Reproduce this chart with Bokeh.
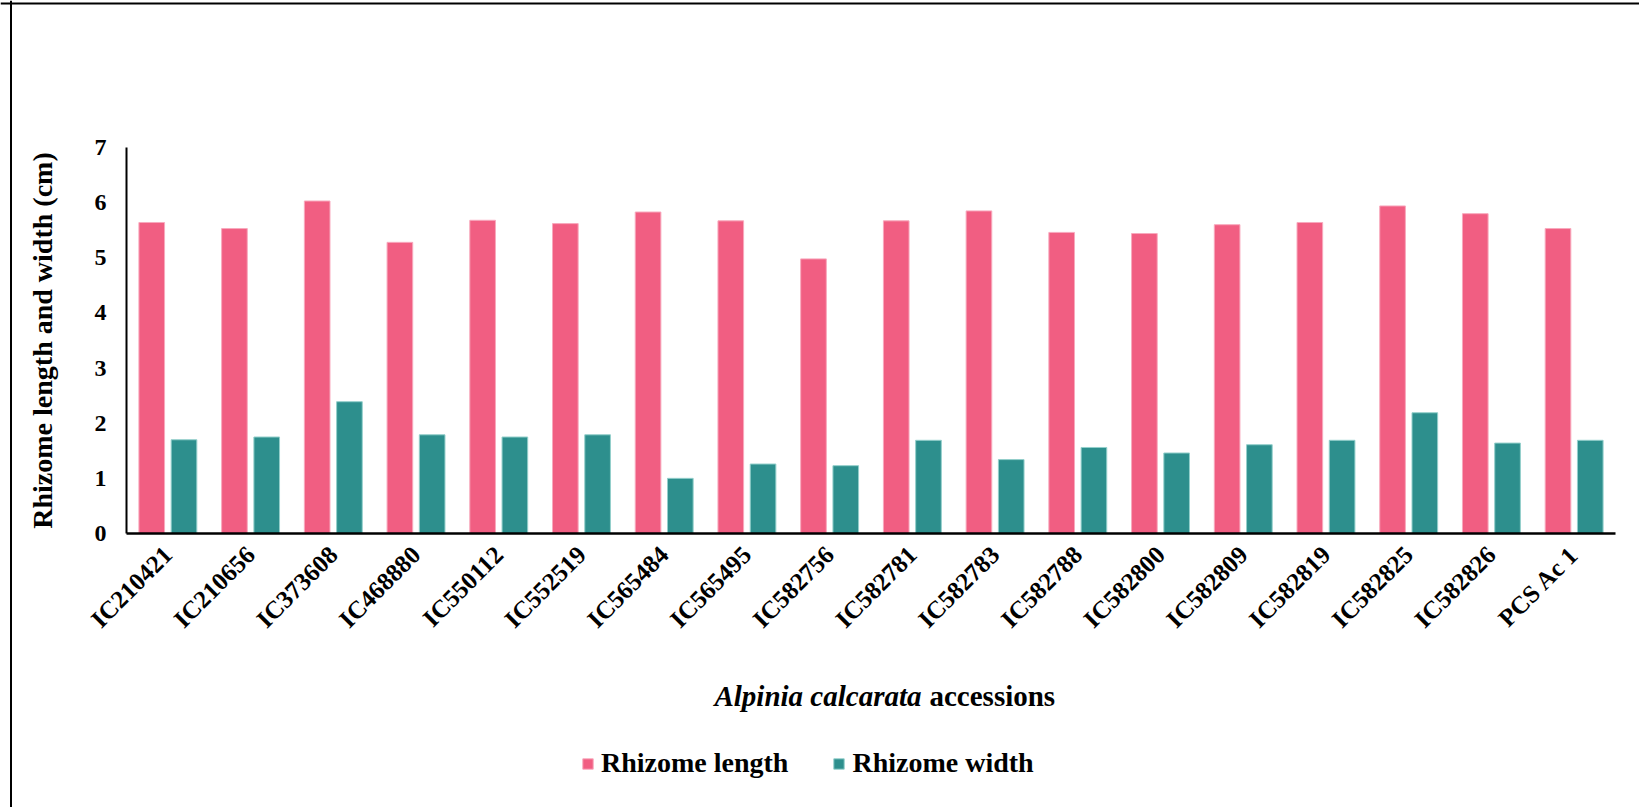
import numpy as np
from bokeh.plotting import figure
from bokeh.models import (ColumnDataSource, Range1d, FixedTicker,
                          Legend, LegendItem, Label, Span)
from bokeh.embed import file_html
from bokeh.resources import INLINE

# ---------------- data ----------------
categories = ["IC210421", "IC210656", "IC373608", "IC468880", "IC550112", "IC552519",
              "IC565484", "IC565495", "IC582756", "IC582781", "IC582783", "IC582788",
              "IC582800", "IC582809", "IC582819", "IC582825", "IC582826", "PCS Ac 1"]
rhizome_length = [5.64, 5.53, 6.03, 5.28, 5.68, 5.62, 5.83, 5.67, 4.98, 5.67, 5.85, 5.46,
                  5.44, 5.60, 5.64, 5.94, 5.80, 5.53]
rhizome_width = [1.70, 1.75, 2.39, 1.79, 1.75, 1.79, 1.00, 1.26, 1.23, 1.69, 1.34, 1.56,
                 1.46, 1.61, 1.69, 2.19, 1.64, 1.69]
y_ticks = [0, 1, 2, 3, 4, 5, 6, 7]
series_names = ["Rhizome length", "Rhizome width"]
x_title_italic = "Alpinia calcarata"
x_title_rest = "accessions"
y_title = "Rhizome length and width (cm)"

# ---------------- layout (pixels) ----------------
W, H = 1639, 807
AX_L, AX_R, AX_T, AX_B = 126, 1615, 147, 533   # plot area in canvas pixels
Y_MAX = 7
n = len(categories)
XS = (AX_R - AX_L) / n          # px per category
YS = (AX_B - AX_T) / Y_MAX      # px per unit
X_START = -0.5 - AX_L / XS
X_END = X_START + W / XS
Y_START = -(H - AX_B) / YS
Y_END = Y_START + H / YS


def px_x(px):
    return X_START + px / XS


def px_y(py):
    return Y_START + (H - py) / YS


PINK = "#F15E82"
PINK_EDGE = "#F8A9BD"
TEAL = "#2D8F8D"
TEAL_EDGE = "#93CFCB"
FONT = "Liberation Serif"

pos = np.arange(n)
src = ColumnDataSource(dict(pos=pos, cat=categories, length=rhizome_length, width=rhizome_width,
                            x_len=pos - 0.195, x_wid=pos + 0.195))

p = figure(width=W, height=H,
           x_range=Range1d(X_START, X_END), y_range=Range1d(Y_START, Y_END),
           output_backend="svg", toolbar_location=None,
           min_border=0, min_border_left=0, min_border_right=0,
           min_border_top=0, min_border_bottom=0)
p.outline_line_color = None
p.xgrid.grid_line_color = None
p.ygrid.grid_line_color = None
p.background_fill_color = "white"
p.border_fill_color = "white"

r1 = p.vbar(x="x_len", top="length", width=0.31, source=src,
            fill_color=PINK, line_color=PINK_EDGE, line_width=1)
r2 = p.vbar(x="x_wid", top="width", width=0.31, source=src,
            fill_color=TEAL, line_color=TEAL_EDGE, line_width=1)

# x axis (at y = 0)
xa = p.xaxis[0]
xa.fixed_location = 0
xa.bounds = (-0.5, n - 0.5)
xa.ticker = FixedTicker(ticks=list(range(n)))
xa.major_label_overrides = {i: c for i, c in enumerate(categories)}
xa.major_label_orientation = np.pi / 4
xa.major_label_text_font = FONT
xa.major_label_text_font_style = "bold"
xa.major_label_text_font_size = "25px"
xa.major_label_text_color = "black"
xa.major_label_standoff = 17
xa.major_tick_line_color = None
xa.minor_tick_line_color = None
xa.major_tick_out = 0
xa.major_tick_in = 0
xa.axis_line_color = "black"
xa.axis_line_width = 2.5

# y axis (at left edge of first category)
ya = p.yaxis[0]
ya.fixed_location = -0.5
ya.bounds = (0, Y_MAX)
ya.ticker = FixedTicker(ticks=y_ticks)
ya.major_label_text_font = FONT
ya.major_label_text_font_style = "bold"
ya.major_label_text_font_size = "24px"
ya.major_label_text_color = "black"
ya.major_label_standoff = 20
ya.major_tick_line_color = None
ya.minor_tick_line_color = None
ya.major_tick_out = 0
ya.major_tick_in = 0
ya.axis_line_color = "black"
ya.axis_line_width = 2
ya.axis_label = y_title
ya.axis_label_text_font = FONT
ya.axis_label_text_font_style = "bold"
ya.axis_label_text_font_size = "28px"
ya.axis_label_text_color = "black"
ya.axis_label_standoff = 34

# x title (mixed italic / bold)
p.add_layout(Label(x=px_x(921), y=px_y(695), text=x_title_italic,
                   text_align="right", text_baseline="alphabetic", text_font=FONT,
                   text_font_style="bold italic", text_font_size="29px", text_color="black"))
p.add_layout(Label(x=px_x(929), y=px_y(695), text=x_title_rest,
                   text_align="left", text_baseline="alphabetic", text_font=FONT,
                   text_font_style="bold", text_font_size="29px", text_color="black"))

# legend
legend = Legend(items=[LegendItem(label=series_names[0], renderers=[r1]),
                       LegendItem(label=series_names[1], renderers=[r2])],
                orientation="horizontal", location=(581, 28),
                glyph_width=13, glyph_height=13, label_standoff=7, spacing=44,
                padding=0, margin=0, border_line_color=None, background_fill_alpha=0,
                label_text_font=FONT, label_text_font_style="bold",
                label_text_font_size="28px", label_text_color="black")
p.add_layout(legend)

# outer frame lines (left and top)
p.add_layout(Span(location=px_x(10.5), dimension="height", line_color="black", line_width=2))
p.add_layout(Span(location=px_y(3), dimension="width", line_color="black", line_width=2))

open("out.html", "w").write(file_html(p, INLINE))
